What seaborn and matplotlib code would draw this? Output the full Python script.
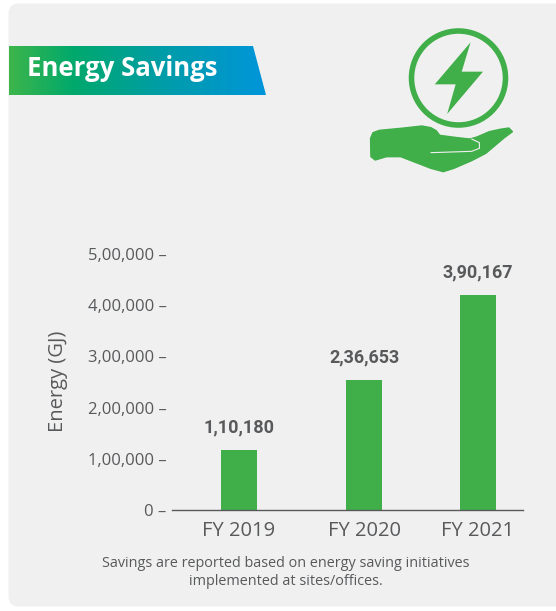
import numpy as np
import pandas as pd
import seaborn as sns
import matplotlib
matplotlib.use("Agg")
import matplotlib.pyplot as plt
from matplotlib.patches import FancyBboxPatch, Polygon, Circle
from matplotlib.colors import LinearSegmentedColormap

years = ["FY 2019", "FY 2020", "FY 2021"]
bar_heights = [117000, 254000, 419000]   # heights as drawn in the picture
value_labels = ["1,10,180", "2,36,653", "3,90,167"]
y_ticks = [0, 100000, 200000, 300000, 400000, 500000]
y_tick_labels = ["0", "1,00,000", "2,00,000", "3,00,000", "4,00,000", "5,00,000"]
title = "Energy Savings"
y_title = "Energy (GJ)"
note = "Savings are reported based on energy saving initiatives\nimplemented at sites/offices."

sns.set_theme(style="white")
W, H = 556, 611
GREEN = "#40AE49"
PANEL = "#F0F0F0"
TXT = "#58595B"
plt.rcParams["font.family"] = ["Open Sans", "DejaVu Sans"]

fig = plt.figure(figsize=(W / 100, H / 100), dpi=100, facecolor="white")
bg = fig.add_axes([0, 0, 1, 1], zorder=0)
bg.set_xlim(0, W); bg.set_ylim(H, 0); bg.axis("off")
bg.add_patch(FancyBboxPatch((8.5, 3.5), W + 20, 603, boxstyle="round,pad=0,rounding_size=10",
                            fc=PANEL, ec="none"))

# banner
cmap = LinearSegmentedColormap.from_list("b", [(0, "#3DB54A"), (0.25, "#00A96C"), (0.6, "#009DA8"), (1, "#0095DA")])
im = bg.imshow(np.linspace(0, 1, 256)[None, :], cmap=cmap, extent=(9, 266, 95, 46), aspect="auto", zorder=2)
banner = Polygon([(9, 46), (253, 46), (266, 95), (9, 95)], closed=True, transform=bg.transData, fc="none", ec="none")
bg.add_patch(banner)
im.set_clip_path(banner)
bg.set_xlim(0, W); bg.set_ylim(H, 0)
bg.text(27, 68.5, title, color="white", fontsize=18.5, fontweight="bold", va="center", ha="left", zorder=3)

scale = np.array([2.82, 3.0])
bg.add_patch(Circle((458.5, 78), 47, fc="none", ec=GREEN, lw=4.0, zorder=3))
bolt = np.array([(1327, 127), (1302, 215), (1362, 215), (1261, 342), (1285, 253), (1226, 253)]) / scale
bg.add_patch(Polygon(bolt, closed=True, fc=GREEN, ec="none", zorder=3))
hand = np.array([(1045, 415), (1052, 398), (1070, 391), (1130, 385), (1190, 378), (1215, 383), (1230, 392),
                 (1240, 406), (1290, 413), (1325, 417), (1345, 411), (1380, 395), (1410, 388), (1435, 384),
                 (1445, 395), (1420, 415), (1370, 460), (1330, 482), (1280, 505), (1250, 515), (1215, 505),
                 (1130, 470), (1090, 470), (1058, 480), (1046, 470)]) / scale
bg.add_patch(Polygon(hand, closed=True, fc=GREEN, ec=GREEN, lw=1, joinstyle="round", zorder=3))
finger = np.array([(1215, 458), (1330, 454), (1352, 445), (1352, 428), (1330, 417)]) / scale
bg.plot(finger[:, 0], finger[:, 1], color=PANEL, lw=0.8, zorder=4)

# chart
ax = fig.add_axes([172 / W, 1 - 510 / H, (523 - 172) / W, (510 - 254) / H], zorder=1)
ax.patch.set_alpha(0)
df = pd.DataFrame({"year": years, "energy": bar_heights})
sns.barplot(data=df, x="year", y="energy", color=GREEN, saturation=1, width=0.8, linewidth=0, ax=ax)
ax.set_ylim(0, 500000)
ax.set_xlim(0, 351)
centers_px = (67, 192, 306)
bar_px = 36
for p, c in zip(ax.patches, centers_px):
    p.set_x(c - bar_px / 2); p.set_width(bar_px)
ax.set_xticks(centers_px); ax.set_xticklabels(years, fontsize=14.5, color=TXT)
ax.set_yticks(y_ticks)
ax.set_yticklabels([f"{t} –" for t in y_tick_labels], fontsize=12, color=TXT)
ax.tick_params(axis="both", length=0)
ax.tick_params(axis="y", pad=4)
ax.tick_params(axis="x", pad=8)
ax.set_xlabel("")
ax.set_ylabel("")
sns.despine(ax=ax, left=True)
ax.spines["bottom"].set_color("#58595B"); ax.spines["bottom"].set_linewidth(1.0)
for c, h, s in zip(centers_px, bar_heights, value_labels):
    ax.annotate(s, (c, h), xytext=(0, 10), textcoords="offset points", ha="center", va="bottom",
                fontsize=13, fontweight="bold", color=TXT, family=["Roboto", "DejaVu Sans"])

bg.text(58, 381, y_title, rotation=90, ha="center", va="center", fontsize=14.5, color=TXT)
bg.text(286, 572.5, note, ha="center", va="center", fontsize=10.4, color=TXT, linespacing=1.2)

fig.savefig("out.png", dpi=100)
